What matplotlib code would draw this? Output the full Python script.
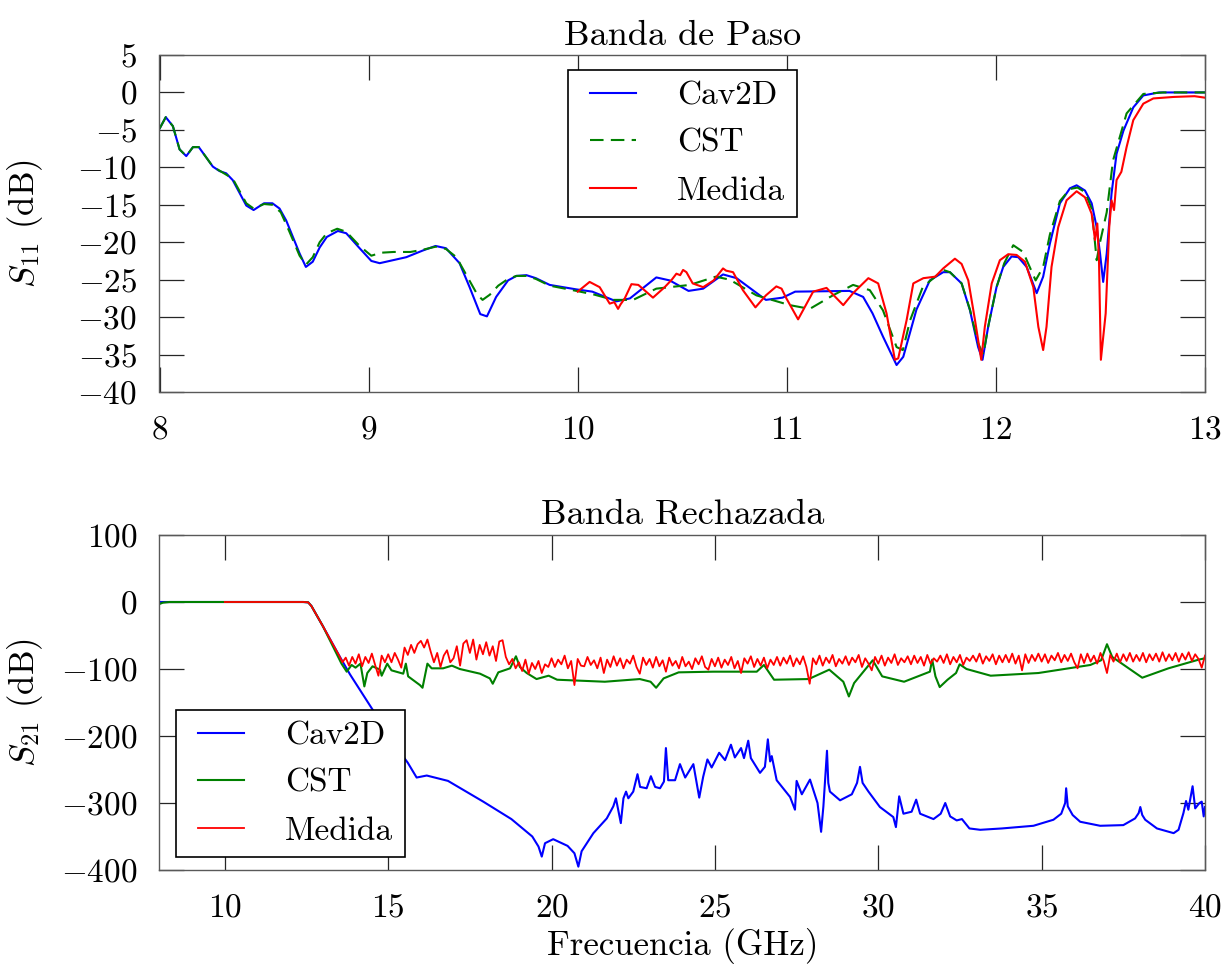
import numpy as np
import matplotlib
matplotlib.use('Agg')
import matplotlib.pyplot as plt
from matplotlib.lines import Line2D
from matplotlib.legend_handler import HandlerLine2D

plt.rcParams['font.family'] = 'serif'
plt.rcParams['font.serif'] = ['cmr10']
plt.rcParams['mathtext.fontset'] = 'cm'
plt.rcParams['axes.formatter.use_mathtext'] = True
plt.rcParams['axes.unicode_minus'] = True

# ---------------- Top panel data: S11 (pass band) ----------------
f_s11_cav = [8.0, 8.03, 8.064, 8.096, 8.128, 8.16, 8.188, 8.255, 8.287, 8.319,
             8.35, 8.415, 8.45, 8.5, 8.54, 8.574, 8.606, 8.67, 8.70, 8.733,
             8.766, 8.80, 8.853, 8.893, 8.957, 9.013, 9.053, 9.18, 9.26, 9.32,
             9.37, 9.435, 9.483, 9.534, 9.566, 9.61, 9.667, 9.707, 9.755, 9.80,
             9.866, 9.994, 10.07, 10.185, 10.25, 10.376, 10.44, 10.53, 10.60, 10.695,
             10.76, 10.90, 10.98, 11.04, 11.30, 11.365, 11.41, 11.46, 11.525, 11.557,
             11.62, 11.684, 11.748, 11.78, 11.836, 11.876, 11.915, 11.936, 11.963, 12.003,
             12.035, 12.075, 12.107, 12.147, 12.195, 12.226, 12.258, 12.306, 12.354, 12.386,
             12.426, 12.458, 12.482, 12.498, 12.513, 12.53, 12.553, 12.577, 12.61, 12.657,
             12.705, 12.78, 13.0]
s11_cav = [-4.85, -3.3, -4.5, -7.6, -8.5, -7.3, -7.3, -9.9, -10.5, -10.8,
           -11.7, -15.1, -15.7, -14.8, -14.8, -15.5, -17.1, -21.5, -23.3, -22.6,
           -20.7, -19.3, -18.5, -18.8, -20.8, -22.5, -22.8, -22.0, -21.1, -20.5,
           -20.8, -22.8, -26.0, -29.6, -29.9, -27.3, -25.1, -24.5, -24.4, -24.8,
           -25.7, -26.3, -26.6, -27.9, -27.5, -24.7, -25.1, -26.5, -26.2, -24.3,
           -24.8, -27.7, -27.4, -26.6, -26.5, -27.3, -29.5, -32.6, -36.4, -35.3,
           -29.0, -25.1, -24.0, -24.0, -25.5, -29.1, -34.0, -35.7, -31.3, -26.0,
           -23.3, -21.9, -22.0, -23.3, -26.8, -24.6, -20.2, -14.8, -12.8, -12.4,
           -13.1, -14.8, -18.0, -21.5, -25.3, -21.5, -13.5, -8.2, -5.1, -2.0,
           -0.4, 0.0, 0.0]

f_s11_cst = [8.0, 8.03, 8.064, 8.096, 8.128, 8.16, 8.188, 8.255, 8.35, 8.415,
             8.45, 8.5, 8.54, 8.58, 8.62, 8.67, 8.70, 8.733, 8.766, 8.80,
             8.85, 8.893, 8.957, 9.013, 9.06, 9.12, 9.2, 9.26, 9.32, 9.37,
             9.42, 9.47, 9.52, 9.545, 9.58, 9.62, 9.667, 9.707, 9.755, 9.80,
             9.866, 9.994, 10.08, 10.17, 10.265, 10.376, 10.536, 10.66, 10.727, 10.855,
             11.014, 11.11, 11.22, 11.317, 11.397, 11.46, 11.525, 11.555, 11.59, 11.65,
             11.748, 11.78, 11.836, 11.876, 11.915, 11.94, 11.965, 12.003, 12.04, 12.083,
             12.13, 12.19, 12.226, 12.258, 12.306, 12.354, 12.39, 12.426, 12.458, 12.482,
             12.498, 12.53, 12.56, 12.625, 12.705, 12.8, 13.0]
s11_cst = [-4.85, -3.3, -4.5, -7.6, -8.5, -7.3, -7.3, -9.9, -11.5, -14.8,
           -15.5, -14.9, -15.0, -16.0, -18.5, -21.8, -23.0, -22.0, -20.0, -18.8,
           -18.2, -18.6, -20.5, -21.8, -21.4, -21.3, -21.3, -21.0, -20.6, -20.9,
           -22.0, -24.5, -27.0, -27.7, -27.0, -25.8, -24.9, -24.5, -24.5, -24.9,
           -25.8, -26.5, -27.0, -27.7, -27.7, -26.2, -25.7, -24.6, -25.0, -27.1,
           -28.4, -28.9, -27.1, -25.7, -26.4, -29.1, -34.0, -34.4, -30.4, -26.0,
           -23.7, -24.0, -25.5, -29.0, -33.5, -35.0, -31.0, -26.0, -22.8, -20.4,
           -21.3, -25.1, -23.3, -19.0, -14.5, -12.9, -12.7, -13.3, -15.5, -22.4,
           -20.0, -16.0, -9.1, -2.8, -0.2, 0.0, 0.0]

f_s11_med = [10.0, 10.057, 10.105, 10.153, 10.175, 10.193, 10.205, 10.225, 10.257, 10.29,
             10.36, 10.416, 10.45, 10.472, 10.49, 10.504, 10.52, 10.55, 10.60, 10.65,
             10.695, 10.71, 10.743, 10.79, 10.85, 10.90, 10.95, 10.975, 10.998, 11.054,
             11.126, 11.19, 11.27, 11.317, 11.39, 11.437, 11.477, 11.517, 11.533, 11.573,
             11.605, 11.653, 11.71, 11.748, 11.804, 11.836, 11.868, 11.90, 11.93, 11.947,
             11.98, 12.019, 12.059, 12.099, 12.139, 12.179, 12.203, 12.226, 12.242, 12.266,
             12.298, 12.338, 12.386, 12.426, 12.458, 12.474, 12.485, 12.493, 12.502, 12.525,
             12.542, 12.553, 12.565, 12.577, 12.60, 12.625, 12.657, 12.705, 12.753, 12.85,
             12.95, 13.0]
s11_med = [-26.6, -25.3, -26.0, -28.2, -28.0, -28.9, -28.3, -27.5, -25.6, -25.7,
           -27.4, -26.0, -25.0, -24.2, -24.4, -23.7, -24.0, -25.5, -26.0, -25.1,
           -23.5, -23.8, -24.0, -26.4, -28.7, -27.1, -25.9, -26.2, -27.5, -30.3,
           -26.6, -26.1, -28.4, -26.8, -24.8, -25.5, -29.5, -35.7, -35.5, -30.4,
           -25.5, -24.8, -24.6, -23.5, -22.2, -22.9, -25.1, -30.4, -35.7, -31.3,
           -25.5, -22.4, -21.6, -21.7, -22.6, -26.0, -31.3, -34.4, -31.3, -23.3,
           -18.0, -14.4, -13.2, -14.0, -16.2, -19.7, -17.5, -22.4, -35.7, -29.5,
           -18.0, -14.4, -15.7, -11.7, -10.6, -7.3, -3.7, -1.5, -0.8, -0.6,
           -0.5, -0.7]

# ---------------- Bottom panel data: S21 (rejected band) ----------------
f_s21_cav = [8.0, 12.4, 12.55, 12.65, 13.0, 13.5, 13.83, 14.54, 15.0, 15.6,
             15.87, 16.18, 16.83, 17.91, 18.77, 19.41, 19.60, 19.70, 19.80, 20.05,
             20.49, 20.7, 20.82, 20.92, 21.28, 21.69, 21.89, 21.97, 22.12, 22.2,
             22.28, 22.35, 22.5, 22.63, 22.71, 22.91, 23.04, 23.17, 23.32, 23.44,
             23.5, 23.57, 23.78, 23.93, 24.09, 24.34, 24.52, 24.64, 24.77, 24.90,
             25.13, 25.31, 25.49, 25.61, 25.80, 25.89, 26.02, 26.1, 26.38, 26.53,
             26.62, 26.69, 26.74, 26.89, 27.3, 27.45, 27.5, 27.66, 27.91, 28.14,
             28.25, 28.32, 28.43, 28.47, 28.52, 28.83, 29.19, 29.35, 29.44, 29.52,
             29.70, 30.05, 30.46, 30.54, 30.64, 30.77, 31.02, 31.16, 31.28, 31.69,
             31.91, 32.05, 32.2, 32.4, 32.56, 32.79, 33.12, 33.78, 34.75, 35.36,
             35.6, 35.72, 35.75, 35.8, 35.95, 36.18, 36.79, 37.5, 37.86, 37.97,
             38.02, 38.08, 38.17, 38.53, 39.04, 39.19, 39.34, 39.42, 39.49, 39.62,
             39.7, 39.83, 39.9, 39.96, 40.0]
s21_cav = [0, 0, -0.5, -6, -36, -80, -108, -162, -200, -240,
           -262, -259, -267, -298, -324, -350, -365, -380, -360, -354,
           -364, -375, -395, -372, -345, -323, -305, -293, -330, -293,
           -283, -293, -283, -257, -276, -278, -260, -276, -278, -268,
           -218, -266, -266, -242, -262, -242, -292, -261, -235, -247,
           -225, -236, -213, -232, -218, -233, -207, -233, -255, -246,
           -205, -238, -230, -266, -291, -310, -267, -287, -265, -300,
           -343, -305, -222, -270, -283, -296, -287, -270, -246, -270,
           -283, -306, -321, -336, -290, -316, -313, -295, -316, -324,
           -316, -300, -320, -326, -324, -338, -340, -338, -334, -325,
           -316, -300, -278, -305, -318, -328, -334, -333, -323, -315,
           -306, -318, -325, -338, -345, -340, -315, -297, -310, -275,
           -308, -300, -298, -320, -306]

f_s21_cst = [8.0, 8.1, 8.3, 12.4, 12.55, 12.65, 13.0, 13.57, 13.73, 13.88,
             14.0, 14.15, 14.27, 14.36, 14.52, 14.75, 14.8, 14.97, 15.1, 15.46,
             15.54, 15.61, 15.97, 16.05, 16.2, 16.33, 16.68, 16.95, 17.19, 17.81,
             18.11, 18.2, 18.37, 18.73, 18.91, 19.03, 19.24, 19.54, 19.91, 20.17,
             21.63, 22.7, 23.03, 23.2, 23.43, 23.89, 24.95, 26.28, 26.5, 26.81,
             27.87, 28.5, 28.93, 29.1, 29.26, 29.83, 30.12, 30.79, 31.58, 31.65,
             31.75, 31.88, 32.12, 32.38, 32.49, 32.7, 33.44, 34.9, 36.49, 36.82,
             37.0, 37.16, 38.08, 38.88, 39.81, 40.0]
s21_cst = [-3, -1, 0, 0, -0.5, -6, -36, -92, -104, -94,
           -98, -92, -126, -106, -96, -101, -110, -92, -102, -107,
           -92, -111, -124, -128, -92, -99, -99, -95, -100, -107,
           -114, -122, -105, -99, -81, -97, -106, -115, -110, -116,
           -119, -115, -119, -128, -114, -105, -104, -104, -94, -116,
           -115, -101, -119, -141, -121, -87, -111, -119, -104, -86,
           -111, -127, -116, -106, -93, -100, -110, -106, -94, -87,
           -63, -82, -113, -99, -86, -84]

# measurement: smooth part, then readings every 0.1 GHz from 13.5 to 40 GHz
f_s21_med_head = [10.0, 12.4, 12.55, 12.65, 13.0]
s21_med_head = [0, 0, -0.5, -6, -36]
f_s21_med_start = 13.5
f_s21_med_step = 0.1
s21_med_noisy = [
    -80, -90, -83, -95, -82,                                   # 13.5-13.9
    -92, -78, -96, -82, -91, -77, -94, -110, -80, -90,         # 14
    -78, -90, -76, -86, -98, -68, -79, -64, -76, -63,          # 15
    -58, -68, -56, -74, -90, -76, -97, -80, -72, -90,          # 16
    -84, -66, -95, -62, -57, -76, -56, -86, -64, -78,          # 17
    -60, -80, -66, -88, -59, -57, -82, -93, -85, -99,          # 18
    -90, -103, -86, -107, -91, -100, -88, -106, -93, -97,      # 19
    -84, -97, -86, -93, -80, -99, -88, -124, -85, -95,         # 20
    -96, -82, -94, -87, -99, -83, -106, -86, -97, -81,         # 21
    -95, -84, -99, -86, -92, -80, -97, -107, -83, -94,         # 22
    -85, -98, -82, -96, -87, -104, -83, -95, -88, -99,         # 23
    -82, -96, -89, -100, -84, -93, -81, -97, -101, -85,        # 24
    -96, -83, -98, -86, -94, -82, -99, -88, -106, -84,         # 25
    -92, -81, -97, -85, -95, -83, -99, -86, -94, -82,          # 26
    -95, -83, -92, -80, -96, -84, -93, -81, -97, -122,         # 27
    -84, -93, -80, -95, -83, -91, -79, -96, -85, -92,          # 28
    -81, -94, -83, -90, -79, -97, -84, -92, -102, -82,         # 29
    -92, -80, -95, -83, -91, -78, -94, -84, -90, -81,          # 30
    -93, -80, -91, -82, -95, -79, -92, -84, -89, -80,          # 31
    -91, -78, -93, -82, -90, -79, -94, -83, -88, -80,          # 32
    -89, -77, -92, -81, -88, -78, -93, -80, -90, -79,          # 33
    -90, -77, -92, -80, -102, -78, -91, -79, -88, -77,         # 34
    -89, -78, -91, -80, -87, -76, -90, -79, -88, -77,          # 35
    -90, -99, -78, -91, -77, -89, -80, -92, -76, -88,          # 36
    -106, -79, -89, -77, -90, -78, -88, -76, -89, -79,         # 37
    -88, -76, -90, -78, -87, -77, -89, -75, -88, -78,          # 38
    -87, -76, -89, -77, -86, -75, -88, -78, -85, -98,          # 39
    -80,                                                       # 40
]

labels = ['Cav2D', 'CST', 'Medida']
c_blue, c_green, c_red = '#0000ff', '#008000', '#ff0000'


class ShiftedLine(HandlerLine2D):
    """Legend line handle whose line starts a bit right of the handle box."""
    def __init__(self, shift, **kw):
        super().__init__(**kw)
        self.shift = shift

    def create_artists(self, legend, orig_handle, xdescent, ydescent,
                       width, height, fontsize, trans):
        arts = super().create_artists(legend, orig_handle, xdescent, ydescent,
                                      width, height, fontsize, trans)
        line = arts[0]
        x = np.asarray(line.get_xdata(), float)
        y = np.asarray(line.get_ydata(), float)
        line.set_data([x[0] + self.shift, x[-1]], [y[0], y[-1]])
        return arts


# ---------------- Figure ----------------
W, H = 1227, 967
fig = plt.figure(figsize=(W / 100, H / 100), dpi=100)
L, R = 159.5, 1205
ax1 = fig.add_axes([L / W, 1 - 392 / H, (R - L) / W, (392 - 55) / H])
ax2 = fig.add_axes([L / W, 1 - 870 / H, (R - L) / W, (870 - 535) / H])

lw = 1.5
ax1.plot(f_s11_cav, s11_cav, color=c_blue, lw=lw, label=labels[0])
ax1.plot(f_s11_cst, s11_cst, color=c_green, lw=lw, ls=(0, (6.5, 3.5)), label=labels[1])
ax1.plot(f_s11_med, s11_med, color=c_red, lw=lw, label=labels[2])

f_med_grid = f_s21_med_start + f_s21_med_step * np.arange(len(s21_med_noisy))
f_s21_med = np.concatenate([f_s21_med_head, f_med_grid])
s21_med = np.concatenate([s21_med_head, s21_med_noisy])

ax2.plot(f_s21_cav, s21_cav, color=c_blue, lw=lw, label=labels[0])
ax2.plot(f_s21_cst, s21_cst, color=c_green, lw=lw, label=labels[1])
ax2.plot(f_s21_med, s21_med, color=c_red, lw=1.3, label=labels[2])

FS = 24
ax1.set_xlim(8, 13)
ax1.set_ylim(-40, 5)
ax1.set_xticks(range(8, 14))
ax1.set_yticks(range(-40, 6, 5))
ax2.set_xlim(8, 40)
ax2.set_ylim(-400, 100)
ax2.set_xticks(range(10, 41, 5))
ax2.set_yticks(range(-400, 101, 100))

for ax in (ax1, ax2):
    for sp in ax.spines.values():
        sp.set_color('0.35')
        sp.set_linewidth(1.0)
    ax.tick_params(direction='in', length=18, width=0.9, color='0.15',
                   top=True, right=True, labelsize=FS)
    ax.tick_params(axis='y', pad=16)
    ax.tick_params(axis='x', pad=17)

ax1.set_title('Banda de Paso', fontsize=26, pad=7)
ax2.set_title('Banda Rechazada', fontsize=26, pad=8)
ax1.set_ylabel(r'$S_{11}$ (dB)', fontsize=25)
ax2.set_ylabel(r'$S_{21}$ (dB)', fontsize=25)
ax2.set_xlabel('Frecuencia (GHz)', fontsize=25)
ax1.yaxis.set_label_coords((45 - L) / (R - L), 0.5)
ax2.yaxis.set_label_coords((45 - L) / (R - L), 0.5)
ax2.xaxis.set_label_coords(0.5, (870 - 928) / (870 - 535))

leg_w = 229 / W
leg_h = 145 / H
leg_kw = dict(loc='upper left', bbox_transform=fig.transFigure, frameon=True,
              fancybox=False, edgecolor='black', framealpha=1, fontsize=FS,
              handlelength=1.71, handletextpad=1.23, labelspacing=0.55,
              borderpad=0.33, borderaxespad=0, mode='expand',
              handler_map={Line2D: ShiftedLine(8)})
lg1 = ax1.legend(bbox_to_anchor=(568 / W, 1 - 70 / H - leg_h, leg_w, leg_h), **leg_kw)
lg2 = ax2.legend(bbox_to_anchor=(176 / W, 1 - 710 / H - leg_h, leg_w, leg_h), **leg_kw)
for lg in (lg1, lg2):
    lg.get_frame().set_linewidth(1.2)

fig.savefig('out.png', dpi=100)
